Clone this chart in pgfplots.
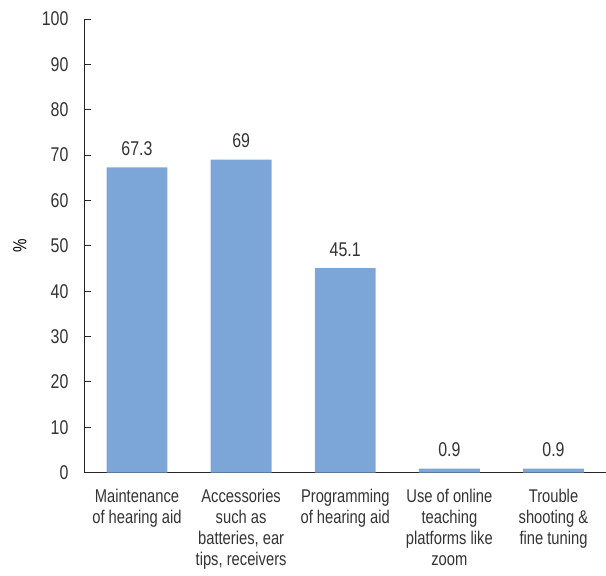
\documentclass[border=0pt]{standalone}
\usepackage{fontspec}
\setmainfont{Liberation Sans}[FakeStretch=0.8]
\usepackage{pgfplots}
\pgfplotsset{compat=1.18}
\definecolor{barblue}{HTML}{7CA6D8}
\definecolor{txt}{HTML}{333333}
\begin{document}
\fontsize{19}{21}\selectfont
\begin{tikzpicture}
\begin{axis}[
  scale only axis,
  width=521bp, height=454bp,
  xmin=-0.5, xmax=4.5,
  ymin=0, ymax=100,
  axis x line=bottom, axis y line=left,
  axis line style={-, black!85, line width=0.9pt},
  xtick=data,
  xticklabels={{Maintenance\\of hearing aid},{Accessories\\such as\\batteries, ear\\tips, receivers},{Programming\\of hearing aid},{Use of online\\teaching\\platforms like\\zoom},{Trouble\\shooting \&\\fine tuning}},
  x tick label style={align=center, font=\fontsize{18.5}{21}\selectfont, text=txt, yshift=-4bp},
  major x tick style={draw=none},
  ytick={0,10,...,100},
  tick align=inside,
  major tick length=6bp,
  y tick style={black!85, line width=0.9pt},
  y tick label style={font=\fontsize{20}{21}\selectfont, text=txt, xshift=-10bp},
  /pgf/number format/assume math mode=true,
  ylabel={\%},
  ylabel style={font=\fontsize{19}{21}\selectfont, text=txt},
  every axis y label/.style={at={(-65bp,0.5)}, rotate=90, anchor=center},
  ybar, bar width=61bp,
  nodes near coords,
  nodes near coords style={font=\fontsize{20}{21}\selectfont, text=txt, yshift=5bp},
  clip=false,
]
\addplot[fill=barblue, draw=none] coordinates {(0,67.3) (1,69) (2,45.1) (3,0.9) (4,0.9)};
\end{axis}
\useasboundingbox (-85bp,-96bp) rectangle (521bp,473bp);
\end{tikzpicture}
\end{document}
